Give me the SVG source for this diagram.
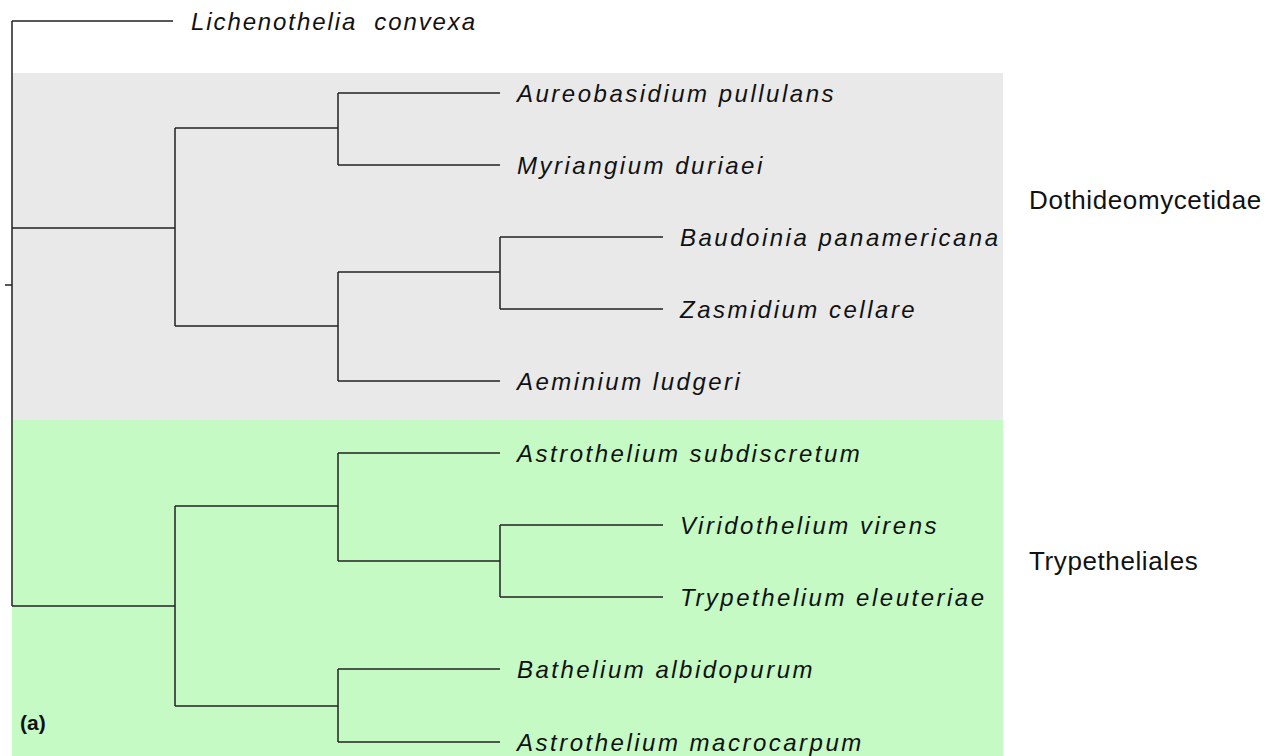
<svg xmlns="http://www.w3.org/2000/svg" width="1272" height="756" viewBox="0 0 1272 756">
<style>
.e{stroke:#222;stroke-width:1.5;fill:none}
.t{font-family:"Liberation Sans",Arial,sans-serif;font-size:24px;font-style:italic;letter-spacing:2.5px;fill:#111}
.c{font-family:"Liberation Sans",Arial,sans-serif;font-size:26px;letter-spacing:0.6px;fill:#111}
</style>
<rect width="1272" height="756" fill="#fff"/>
<g id="bg">
<rect x="12" y="73" width="991" height="347" fill="#e9e9e9"/>
<rect x="12" y="420" width="991" height="336" fill="#c5fac5"/>
</g>
<g id="connectors">
<path class="e" d="M5,285H12M12,21V606M12,21H173M12,228H175M175,128V326M175,128H338M338,93V165M338,93H500M338,165H500M175,326H338M338,272V381M338,272H500M500,237V309M500,237H663M500,309H663M338,381H500M12,606H175M175,506V706M175,506H338M338,453V561M338,453H500M338,561H500M500,525V597M500,525H663M500,597H663M175,706H338M338,669V742M338,669H500M338,742H500"/>
</g>
<g id="leaves">
<text class="t" x="191" y="30" xml:space="preserve" style="letter-spacing:1.9px">Lichenothelia  convexa</text>
<text class="t" x="517" y="102">Aureobasidium pullulans</text>
<text class="t" x="517" y="174">Myriangium duriaei</text>
<text class="t" x="680" y="246">Baudoinia panamericana</text>
<text class="t" x="680" y="318">Zasmidium cellare</text>
<text class="t" x="517" y="390">Aeminium ludgeri</text>
<text class="t" x="517" y="462">Astrothelium subdiscretum</text>
<text class="t" x="680" y="534">Viridothelium virens</text>
<text class="t" x="680" y="606">Trypethelium eleuteriae</text>
<text class="t" x="517" y="678">Bathelium albidopurum</text>
<text class="t" x="517" y="751">Astrothelium macrocarpum</text>
</g>
<g id="clades">
<text class="c" x="1029" y="209">Dothideomycetidae</text>
<text class="c" x="1029" y="570">Trypetheliales</text>
</g>
<text x="20" y="730" font-family="Liberation Sans,Arial,sans-serif" font-size="21" font-weight="bold" fill="#111">(a)</text>
</svg>
